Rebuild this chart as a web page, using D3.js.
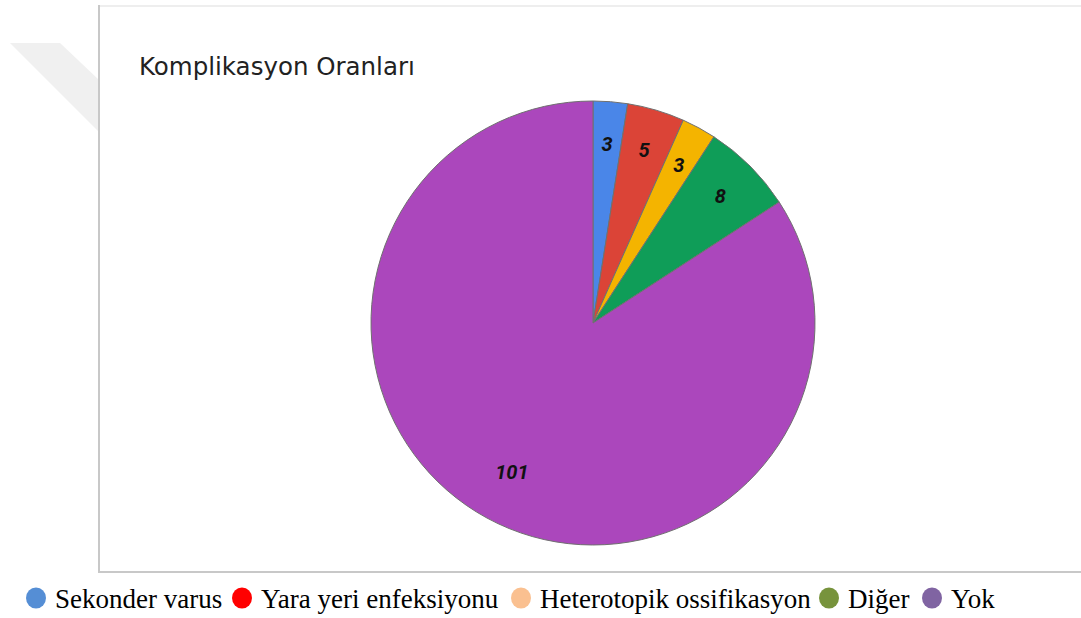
<!DOCTYPE html>
<html><head><meta charset="utf-8">
<script src="https://cdn.jsdelivr.net/npm/d3@7"></script>
<style>body{margin:0;background:#fff}svg{display:block}</style>
</head><body>
<svg id="c" width="1081" height="618"></svg>
<script>
const categories = ["Sekonder varus","Yara yeri enfeksiyonu","Heterotopik ossifikasyon","Diğer","Yok"];
const values = [3,5,3,8,101];
const sliceColors = ["#4a86e8","#db4437","#f4b400","#0f9d58","#ab47bc"];
const legendColors = ["#558ed5","#ff0000","#fac090","#77933c","#8064a2"];
const title = "Komplikasyon Oranları";

const svg = d3.select("#c");
// faint background shape
svg.append("path").attr("d","M10,43 L60,43 L99,80 L99,132 Z").attr("fill","#f0f0f0");
// frame
svg.append("rect").attr("x",99).attr("y",6).attr("width",1000).attr("height",566)
  .attr("fill","#fff").attr("stroke","#c8c8c8").attr("stroke-width",2);
svg.append("line").attr("x1",100).attr("x2",1081).attr("y1",6).attr("y2",6).attr("stroke","#eeeeee").attr("stroke-width",2);

svg.append("text").attr("x",139).attr("y",75).attr("font-family","DejaVu Sans, Verdana, sans-serif")
  .attr("font-size",24.5).attr("fill","#222").text(title);

const cx=593, cy=323, R=222;
const pie = d3.pie().sort(null).value(d=>d)(values);
const arc = d3.arc().innerRadius(0).outerRadius(R);
const g = svg.append("g").attr("transform",`translate(${cx},${cy})`);
g.selectAll("path").data(pie).join("path").attr("d",arc)
  .attr("fill",(d,i)=>sliceColors[i]).attr("stroke","#707070").attr("stroke-width",1);
g.selectAll("text").data(pie).join("text")
  .attr("transform",d=>{
    const a=(d.startAngle+d.endAngle)/2; const r = d.value>50?170:180;
    return `translate(${r*Math.sin(a)},${-r*Math.cos(a)})`;})
  .attr("text-anchor","middle").attr("dy","0.35em")
  .attr("font-family","Roboto, Arial, sans-serif").attr("font-style","italic").attr("font-weight","bold")
  .attr("font-size",20).attr("fill","#111").text(d=>d.value);

// legend
const lx=[36,242,521,829,932];
const leg = svg.append("g");
categories.forEach((c,i)=>{
  leg.append("ellipse").attr("cx",lx[i]).attr("cy",598).attr("rx",10).attr("ry",10.5).attr("fill",legendColors[i]);
  leg.append("text").attr("x",lx[i]+19).attr("y",608).attr("font-family","Liberation Serif, Times New Roman, serif")
    .attr("font-size",27).attr("fill","#000").text(c);
});
</script>
</body></html>
